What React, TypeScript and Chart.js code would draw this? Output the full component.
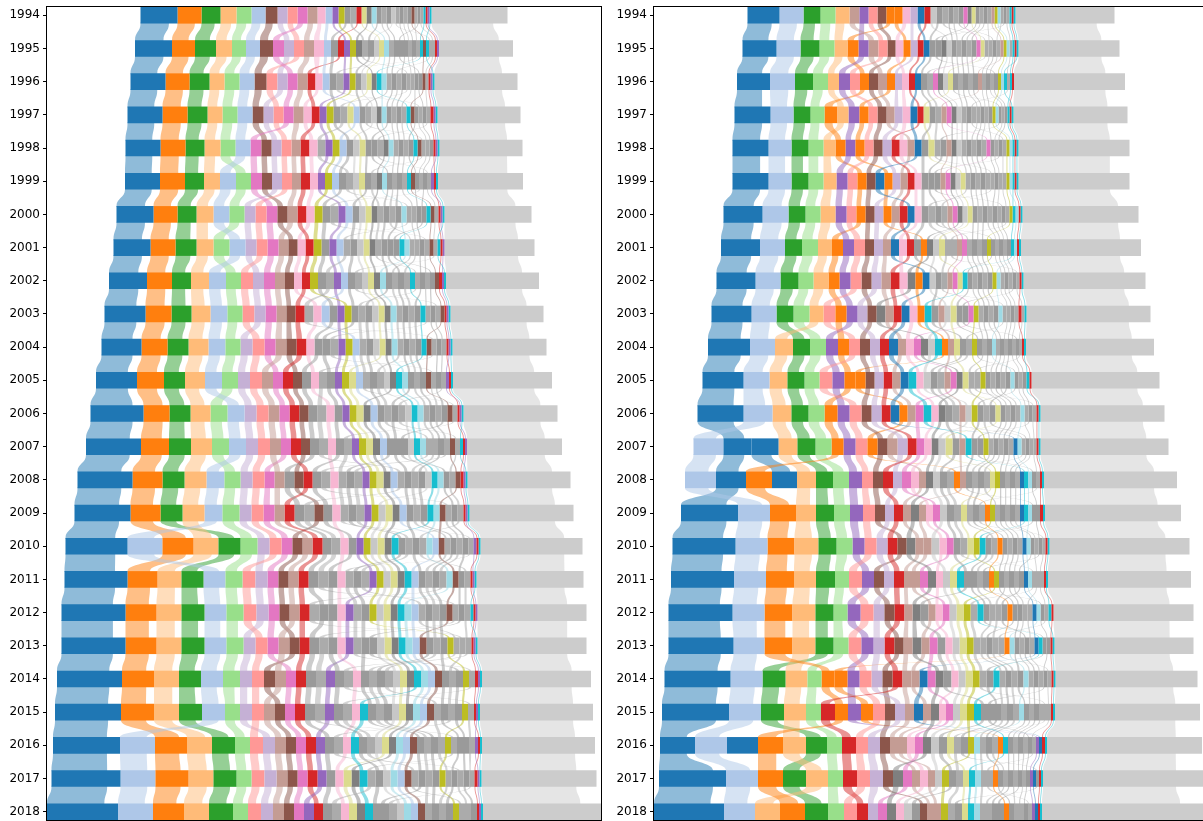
import React, { useEffect, useRef } from "react";
import { Chart, registerables } from "chart.js";

Chart.register(...registerables);

const years = ["1994","1995","1996","1997","1998","1999","2000","2001","2002","2003","2004","2005","2006","2007","2008","2009","2010","2011","2012","2013","2014","2015","2016","2017","2018"];

const TAB = {
  blue: "#1f77b4", ltblue: "#aec7e8", orange: "#ff7f0e", ltorange: "#ffbb78",
  green: "#2ca02c", ltgreen: "#98df8a", red: "#d62728", salmon: "#ff9896",
  purple: "#9467bd", ltpurple: "#c5b0d5", brown: "#8c564b", tan: "#c49c94",
  pink: "#e377c2", ltpink: "#f7b6d2", gray: "#7f7f7f", ltgray: "#c7c7c7",
  olive: "#bcbd22", khaki: "#dbdb8d", cyan: "#17becf", ltcyan: "#9edae5",
};
const GRAY_A = "#9a9a9a";
const GRAY_B = "#ababab";
const OTHER_COLOR = "#cccccc";

// ---------------- Left panel data ----------------
const leftBlue = [37,37,35,35,35,35,37,37,38,41,40,41,53,55,55,56,62,63,64,64,65,66,67,69,71];
const leftOrange = [24,23,24,25,25,25,24,25,25,26,26,27,26,28,30,30,31,30,31,31,32,33,32,33,31];
const leftGreen = [19,21,20,20,19,19,19,21,19,20,21,21,21,22,22,22,22,22,23,23,22,23,23,23,24];
const leftLtOrange = [16,16,15,15,16,16,17,17,18,19,20,20,20,21,22,22,25,24,25,25,25,25,25,25,25];
const leftLtGreen = [15,14,15,15,15,15,15,16,15,15,15,16,17,17,16,17,17,17,17,17,17,15,15,15,15];
const leftLtBlue = [14,14,15,15,15,16,16,16,17,17,17,17,17,17,18,18,35,22,22,22,22,23,35,35,35];
const leftBrown = [12,13,12,11,10,10,10,9,9,9,10,9,9,9,9,9,10,10,10,10,11,10,10,10,10];
const leftLtPurple = [10,10,10,10,10,10,11,11,11,11,12,12,12,12,12,12,12,12,12,12,12,12,12,12,12];
const leftSalmon = [10,10,11,10,10,10,11,11,12,12,12,12,12,12,12,12,12,13,13,12,12,12,13,13,13];
const leftPink = [10,11,10,10,11,11,11,11,11,11,11,10,10,10,10,11,11,11,11,11,10,10,10,10,10];
const leftTan = [10,10,10,10,9,9,10,10,10,10,11,11,11,11,10,10,10,10,10,11,11,11,11,11,11];
const leftLtPink = [8,10,7,8,8,8,8,8,8,8,8,8,8,8,8,8,8,8,8,8,8,8,8,8,8];
const leftRed = [5,6,8,8,9,9,9,8,8,9,10,10,10,10,9,10,10,10,10,10,10,10,10,10,9];
const leftPurple = [6,6,6,7,7,7,7,7,7,7,7,7,7,7,7,7,7,7,8,8,9,9,9,9,10];
const leftOlive = [6,6,6,7,7,7,8,8,8,7,7,7,7,7,7,7,7,7,7,6,6,6,6,6,6];
const leftLtGray = [4,5,5,5,6,6,6,6,6,6,6,6,6,6,6,7,7,7,7,7,7,7,7,7,7];
const leftKhaki = [5,5,5,6,6,6,6,6,6,6,6,7,7,7,7,7,7,7,7,7,7,7,7,8,8];
const leftGray = [5,6,5,5,5,5,6,6,6,6,6,6,7,7,7,7,7,7,7,7,7,7,7,8,8];
const leftCyan = [2,3,5,4,4,4,4,5,5,5,5,6,6,6,6,6,7,7,7,7,7,8,8,8,8];
const leftLtCyan = [5,5,5,5,5,5,5,5,6,6,6,6,6,6,6,6,6,6,7,7,7,7,7,7,7];
const leftLtBlue2 = [7,7,7,6,7,7,7,7,7,8,7,7,7,7,7,7,6,7,7,7,7,7,7,7,7];
const leftBrown2 = [3,3,3,4,4,4,4,4,4,4,5,5,5,5,5,6,6,6,6,7,7,7,7,7,7];
const leftRed2 = [2,2,2,3,2,2,2,2,3,2,2,2,2,2,3,2,2,2,2,2,3,2,2,3,2];
const leftPurple2 = [2,2,2,2,2,3,2,2,2,2,2,3,2,2,2,2,3,2,2,2,2,2,3,2,2];
const leftCyan2 = [2,3,2,2,2,2,2,3,2,2,2,2,2,3,2,2,2,2,3,2,2,2,2,2,2];
const leftSmall1 = [6,7,7,7,7,7,8,8,8,8,8,9,9,9,10,10,9,10,9,10,10,10,9,9,9];
const leftSmall2 = [6,6,4,7,8,7,5,7,8,9,5,8,9,9,7,10,9,10,6,9,10,10,6,8,9];
const leftSmall3 = [5,6,6,6,6,6,7,7,7,7,8,8,8,8,9,9,8,9,9,9,9,9,8,8,8];
const leftSmall4 = [5,5,5,6,4,6,6,6,5,7,7,7,5,8,8,8,5,8,8,8,6,9,8,7,6];
const leftSmall5 = [5,5,5,5,6,5,6,6,6,7,7,7,7,7,8,8,7,8,8,8,8,8,7,7,8];
const leftSmall6 = [4,3,5,5,5,5,6,5,6,6,6,7,7,6,8,8,7,8,7,6,8,8,7,7,7];
const leftSmall7 = [4,4,5,5,5,5,6,6,6,6,6,6,7,7,7,7,7,7,7,7,8,8,7,7,7];
const leftSmall8 = [4,4,4,5,5,5,5,5,6,6,6,6,6,6,7,7,6,7,7,7,8,7,7,6,7];
const leftSmall9 = [4,4,4,4,5,4,5,5,5,6,6,6,6,6,7,7,6,7,7,7,7,7,6,6,7];
const leftSmall10 = [3,4,7,4,4,4,8,5,5,5,8,5,6,6,9,6,6,7,10,6,7,7,9,6,6];
const leftSmall11 = [3,5,4,4,4,4,5,6,5,5,5,5,6,7,6,6,6,6,6,8,7,7,6,6,6];
const leftSmall12 = [3,3,3,4,6,4,4,4,7,5,5,5,7,5,6,6,7,6,6,6,9,6,6,5,8];
const leftOther = [76,74,83,83,83,85,87,90,93,93,94,99,94,95,103,104,102,107,109,109,109,113,113,115,118];

// ---------------- Right panel data ----------------
const rightBlue = [32,34,33,36,36,36,39,39,39,40,42,41,46,28,30,57,63,63,64,65,66,67,35,67,70];
const rightBlueB = [0,0,0,0,0,0,0,0,0,0,0,0,0,27,25,0,0,0,0,0,0,0,31,0,0];
const rightLtBlue = [24,24,25,23,23,23,26,25,25,25,25,26,29,30,31,32,32,32,32,31,32,32,32,32,31];
const rightGreen = [17,19,18,17,17,17,17,17,18,17,17,17,17,18,17,18,18,19,18,18,23,23,21,23,23];
const rightLtGreen = [15,15,15,14,15,15,15,16,15,16,16,15,16,16,16,16,16,14,14,15,14,15,15,15,16];
const rightLtOrange = [14,13,11,11,12,13,15,14,15,14,18,18,19,19,19,20,24,22,23,23,22,22,23,22,25];
const rightOrange = [8,11,9,13,10,9,9,11,11,11,11,11,13,12,26,26,27,28,28,28,13,13,25,25,25];
const rightOrangeB = [8,7,8,9,9,8,8,6,7,7,6,10,8,10,6,5,5,5,5,5,13,12,5,5,5];
const rightPurple = [9,10,11,11,10,11,11,11,11,11,12,12,12,12,13,13,12,12,13,12,12,13,3,3,3];
const rightSalmon = [9,9,10,9,9,10,10,11,11,12,11,13,12,12,11,12,12,13,13,13,12,12,12,13,13];
const rightBrown = [9,8,9,9,9,9,9,9,10,9,10,9,10,10,10,10,9,10,10,9,10,10,10,10,7];
const rightTanA = [10,10,9,8,7,7,8,8,9,8,8,8,8,10,7,8,8,8,8,9,9,9,9,8,7];
const rightTanB = [3,3,4,5,5,5,5,5,5,6,6,6,6,6,6,7,8,8,7,8,8,8,8,7,7];
const rightLtPurple = [7,7,7,8,9,8,9,9,10,10,10,9,10,10,9,9,11,10,11,11,11,10,12,13,10];
const rightRed = [6,6,6,6,8,7,8,7,9,8,9,9,9,9,10,9,10,10,10,10,10,14,14,14,11];
const rightBlueC = [7,6,6,7,7,9,7,8,7,8,9,8,9,4,4,4,4,4,4,4,8,9,3,3,3];
const rightLtPink = [8,8,7,8,8,7,7,8,8,8,8,7,7,7,8,7,7,7,7,7,7,7,8,8,8];
const rightPink = [4,4,5,5,4,5,5,5,5,5,7,6,8,8,9,7,7,8,7,8,8,7,8,9,9];
const rightGray = [4,5,5,5,5,5,5,6,8,9,7,6,7,7,7,8,9,8,8,9,8,8,8,10,9];
const rightLtGray = [6,5,5,5,5,5,5,6,6,6,7,7,6,7,7,7,8,7,7,7,7,7,8,7,8];
const rightKhaki = [4,4,5,6,6,5,5,6,5,6,6,6,5,7,5,6,6,7,7,7,7,7,7,6,6];
const rightOlive = [3,3,3,3,3,3,3,4,4,5,5,5,6,5,5,5,6,5,7,7,7,7,6,7,7];
const rightCyan = [2,2,2,2,2,2,3,3,5,7,7,8,8,6,4,4,6,7,6,4,6,7,5,6,6];
const rightLtCyan = [3,3,3,3,3,3,3,3,4,4,4,4,4,4,4,4,4,4,4,5,5,5,6,6,6];
const rightRed2 = [2,2,2,2,2,2,2,2,2,3,2,2,2,2,2,3,2,2,2,2,2,2,3,2,2];
const rightCyan2 = [2,2,3,2,2,2,2,2,2,2,2,3,2,2,2,2,2,2,3,2,2,2,2,2,2];
const rightSmall1 = [6,6,6,6,7,7,7,7,6,7,6,7,7,7,7,7,7,7,8,8,8,7,8,7,8];
const rightSmall2 = [6,4,6,6,6,4,7,6,6,4,6,7,7,4,7,7,7,4,7,7,7,4,7,7,7];
const rightSmall3 = [5,5,5,3,6,6,6,4,5,6,5,4,6,6,6,4,6,6,6,4,7,6,7,3,7];
const rightSmall4 = [5,5,5,5,5,5,6,5,5,5,5,6,6,5,6,6,6,6,6,6,6,6,6,6,6];
const rightSmall5 = [4,5,5,5,5,5,5,5,5,5,5,5,5,5,6,6,5,5,5,6,6,6,6,5,5];
const rightSmall6 = [4,5,5,4,5,5,5,5,5,5,4,5,5,5,6,5,5,5,6,6,6,6,6,5,6];
const rightSmall7 = [4,5,5,4,5,5,5,5,5,5,4,5,5,5,5,5,5,5,5,5,6,5,5,5,6];
const rightSmall8 = [4,4,4,4,5,5,5,4,4,4,4,5,5,5,5,5,5,5,5,5,5,5,5,5,5];
const rightSmall9 = [5,4,4,4,4,4,5,4,4,4,4,5,6,4,5,5,4,5,6,5,5,5,5,4,6];
const rightSmall10 = [3,4,4,3,4,4,4,4,4,4,4,4,4,4,5,5,4,4,5,5,5,5,5,4,5];
const rightSmall11 = [3,6,4,3,4,6,4,4,4,6,3,4,4,6,4,4,4,6,4,4,4,7,4,4,4];
const rightSmall12 = [3,3,3,5,4,4,4,6,3,3,3,6,4,3,4,6,3,4,4,6,4,3,4,6,4];
const rightOther = [99,101,111,114,111,111,116,120,122,124,128,128,124,128,133,136,140,143,140,139,142,145,155,160,166];

type Series = { color: string; values: number[] };

const leftSeries: Series[] = [
  { color: TAB.blue, values: leftBlue },
  { color: TAB.orange, values: leftOrange },
  { color: TAB.green, values: leftGreen },
  { color: TAB.ltorange, values: leftLtOrange },
  { color: TAB.ltgreen, values: leftLtGreen },
  { color: TAB.ltblue, values: leftLtBlue },
  { color: TAB.brown, values: leftBrown },
  { color: TAB.ltpurple, values: leftLtPurple },
  { color: TAB.salmon, values: leftSalmon },
  { color: TAB.pink, values: leftPink },
  { color: TAB.tan, values: leftTan },
  { color: TAB.ltpink, values: leftLtPink },
  { color: TAB.red, values: leftRed },
  { color: TAB.purple, values: leftPurple },
  { color: TAB.olive, values: leftOlive },
  { color: TAB.ltgray, values: leftLtGray },
  { color: TAB.khaki, values: leftKhaki },
  { color: TAB.gray, values: leftGray },
  { color: TAB.cyan, values: leftCyan },
  { color: TAB.ltcyan, values: leftLtCyan },
  { color: TAB.ltblue, values: leftLtBlue2 },
  { color: TAB.brown, values: leftBrown2 },
  { color: TAB.red, values: leftRed2 },
  { color: TAB.purple, values: leftPurple2 },
  { color: TAB.cyan, values: leftCyan2 },
  { color: GRAY_A, values: leftSmall1 },
  { color: GRAY_B, values: leftSmall2 },
  { color: GRAY_A, values: leftSmall3 },
  { color: GRAY_B, values: leftSmall4 },
  { color: GRAY_A, values: leftSmall5 },
  { color: GRAY_B, values: leftSmall6 },
  { color: GRAY_A, values: leftSmall7 },
  { color: GRAY_B, values: leftSmall8 },
  { color: GRAY_A, values: leftSmall9 },
  { color: GRAY_B, values: leftSmall10 },
  { color: GRAY_A, values: leftSmall11 },
  { color: GRAY_B, values: leftSmall12 },
];

const rightSeries: Series[] = [
  { color: TAB.blue, values: rightBlue },
  { color: TAB.blue, values: rightBlueB },
  { color: TAB.ltblue, values: rightLtBlue },
  { color: TAB.green, values: rightGreen },
  { color: TAB.ltgreen, values: rightLtGreen },
  { color: TAB.ltorange, values: rightLtOrange },
  { color: TAB.orange, values: rightOrange },
  { color: TAB.orange, values: rightOrangeB },
  { color: TAB.purple, values: rightPurple },
  { color: TAB.salmon, values: rightSalmon },
  { color: TAB.brown, values: rightBrown },
  { color: TAB.tan, values: rightTanA },
  { color: TAB.tan, values: rightTanB },
  { color: TAB.ltpurple, values: rightLtPurple },
  { color: TAB.red, values: rightRed },
  { color: TAB.blue, values: rightBlueC },
  { color: TAB.ltpink, values: rightLtPink },
  { color: TAB.pink, values: rightPink },
  { color: TAB.gray, values: rightGray },
  { color: TAB.ltgray, values: rightLtGray },
  { color: TAB.khaki, values: rightKhaki },
  { color: TAB.olive, values: rightOlive },
  { color: TAB.cyan, values: rightCyan },
  { color: TAB.ltcyan, values: rightLtCyan },
  { color: TAB.red, values: rightRed2 },
  { color: TAB.cyan, values: rightCyan2 },
  { color: GRAY_A, values: rightSmall1 },
  { color: GRAY_B, values: rightSmall2 },
  { color: GRAY_A, values: rightSmall3 },
  { color: GRAY_B, values: rightSmall4 },
  { color: GRAY_A, values: rightSmall5 },
  { color: GRAY_B, values: rightSmall6 },
  { color: GRAY_A, values: rightSmall7 },
  { color: GRAY_B, values: rightSmall8 },
  { color: GRAY_A, values: rightSmall9 },
  { color: GRAY_B, values: rightSmall10 },
  { color: GRAY_A, values: rightSmall11 },
  { color: GRAY_B, values: rightSmall12 },
];

// layout constants (styles, not data)
const HALF_BAR = 0.25; // half bar height in row units
const RIBBON_SCALE = 0.85; // ribbon width relative to the bar segment
const RIBBON_GAP = 3; // gap trimmed off the right side of each ribbon
const RIBBON_MIN = 0.9;
const AXIS_WIDTH = 47;
const CANVAS_W = 603;
const CANVAS_H = 821;

type Span = [number, number] | null;

function buildLayout(series: Series[], other: number[]) {
  const n = years.length;
  const spans: Span[][] = series.map(() => new Array(n).fill(null));
  const otherSpans: Span[] = [];
  let maxTotal = 0;
  for (let y = 0; y < n; y++) {
    const items = series
      .map((s, k) => ({ k, v: s.values[y] }))
      .filter((it) => it.v > 0);
    items.sort((a, b) => b.v - a.v || a.k - b.k);
    const total = items.reduce((acc, it) => acc + it.v, 0) + other[y];
    maxTotal = Math.max(maxTotal, total);
    let x = -total / 2;
    for (const it of items) {
      spans[it.k][y] = [x, x + it.v];
      x += it.v;
    }
    otherSpans.push([x, x + other[y]]);
  }
  const groups = [
    ...series.map((s, k) => ({ color: s.color, spans: spans[k] })),
    { color: OTHER_COLOR, spans: otherSpans },
  ];
  return { groups, maxTotal };
}

function ribbonEnd(sp: [number, number]) {
  const w = Math.max((sp[1] - sp[0]) * RIBBON_SCALE - RIBBON_GAP, RIBBON_MIN);
  return sp[0] + w;
}

function makeChart(canvas: HTMLCanvasElement, series: Series[], other: number[]) {
  const { groups, maxTotal } = buildLayout(series, other);

  const datasets = groups.map((g) => ({
    type: "bar" as const,
    data: g.spans
      .map((sp, i) => (sp ? { x: sp, y: i } : null))
      .filter((d) => d !== null) as any[],
    backgroundColor: g.color,
    borderWidth: 0,
    grouped: false,
    barPercentage: HALF_BAR * 2,
    categoryPercentage: 1,
  }));

  const ribbonPlugin = {
    id: "ribbons",
    beforeDatasetsDraw(chart: any) {
      const { ctx, chartArea: ca } = chart;
      const xs = chart.scales.x;
      const ys = chart.scales.y;
      ctx.save();
      ctx.beginPath();
      ctx.rect(ca.left, ca.top, ca.right - ca.left, ca.bottom - ca.top);
      ctx.clip();
      ctx.globalAlpha = 0.5;
      const order = [groups.length - 1, ...groups.slice(0, -1).map((_, i) => i)];
      for (const k of order) {
        const g = groups[k];
        ctx.fillStyle = g.color;
        for (let i = 0; i < g.spans.length - 1; i++) {
          const a = g.spans[i];
          const b = g.spans[i + 1];
          if (!a || !b) continue;
          const y0 = ys.getPixelForValue(i + HALF_BAR);
          const y1 = ys.getPixelForValue(i + 1 - HALF_BAR);
          const ym = (y0 + y1) / 2;
          const ax0 = xs.getPixelForValue(a[0]);
          const ax1 = xs.getPixelForValue(ribbonEnd(a));
          const bx0 = xs.getPixelForValue(b[0]);
          const bx1 = xs.getPixelForValue(ribbonEnd(b));
          ctx.beginPath();
          ctx.moveTo(ax0, y0 - 1);
          ctx.lineTo(ax0, y0);
          ctx.bezierCurveTo(ax0, ym, bx0, ym, bx0, y1);
          ctx.lineTo(bx0, y1 + 1);
          ctx.lineTo(bx1, y1 + 1);
          ctx.lineTo(bx1, y1);
          ctx.bezierCurveTo(bx1, ym, ax1, ym, ax1, y0);
          ctx.lineTo(ax1, y0 - 1);
          ctx.closePath();
          ctx.fill();
        }
      }
      ctx.restore();
    },
  };

  const framePlugin = {
    id: "frame",
    afterDraw(chart: any) {
      const { ctx, chartArea: ca } = chart;
      ctx.save();
      ctx.strokeStyle = "#000";
      ctx.lineWidth = 1;
      ctx.strokeRect(
        Math.round(ca.left) - 0.5,
        Math.round(ca.top) - 0.5,
        Math.round(ca.right - ca.left) + 1,
        Math.round(ca.bottom - ca.top) + 1
      );
      ctx.restore();
    },
  };

  return new Chart(canvas, {
    type: "bar",
    data: { datasets: datasets as any },
    options: {
      indexAxis: "y",
      responsive: false,
      maintainAspectRatio: false,
      devicePixelRatio: 1,
      animation: false,
      events: [],
      layout: { padding: { top: 7, bottom: 1, left: 0, right: 2 } },
      plugins: { legend: { display: false }, tooltip: { enabled: false } },
      scales: {
        x: {
          type: "linear",
          min: -maxTotal / 2,
          max: maxTotal / 2,
          display: false,
          offset: false,
        },
        y: {
          type: "linear",
          reverse: true,
          offset: false,
          min: -HALF_BAR,
          max: years.length - 1 + HALF_BAR,
          afterBuildTicks: (s: any) => {
            s.ticks = years.map((_, i) => ({ value: i }));
          },
          afterFit: (s: any) => {
            s.width = AXIS_WIDTH;
            s.paddingTop = 0;
            s.paddingBottom = 0;
          },
          ticks: {
            autoSkip: false,
            padding: 3,
            color: "#000",
            font: { family: "DejaVu Sans", size: 12 },
            callback: (v: any) => years[Math.round(Number(v))] ?? "",
          },
          grid: {
            offset: false,
            drawOnChartArea: false,
            drawTicks: true,
            tickLength: 4,
            color: "#000",
            lineWidth: 1,
          },
          border: { display: false },
        },
      },
    } as any,
    plugins: [ribbonPlugin, framePlugin],
  });
}

function Panel({ series, other, left }: { series: Series[]; other: number[]; left: number }) {
  const ref = useRef<HTMLCanvasElement>(null);
  useEffect(() => {
    if (!ref.current) return;
    const chart = makeChart(ref.current, series, other);
    return () => chart.destroy();
  }, [series, other]);
  return (
    <canvas
      ref={ref}
      width={CANVAS_W}
      height={CANVAS_H}
      style={{ position: "absolute", left, top: 0, width: CANVAS_W, height: CANVAS_H }}
    />
  );
}

export default function App() {
  return (
    <div
      style={{
        position: "absolute",
        left: 0,
        top: 0,
        width: 1203,
        height: 821,
        overflow: "hidden",
        background: "#fff",
      }}
    >
      <Panel series={leftSeries} other={leftOther} left={0} />
      <Panel series={rightSeries} other={rightOther} left={607} />
    </div>
  );
}
